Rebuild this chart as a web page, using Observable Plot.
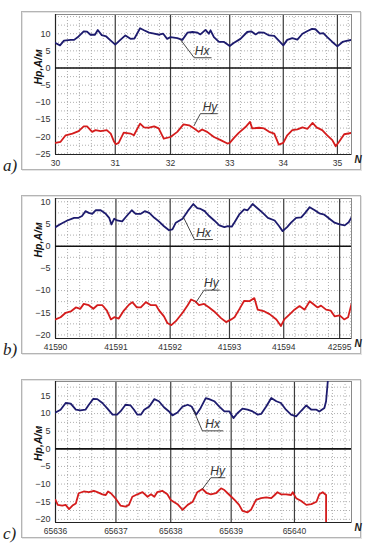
<!DOCTYPE html>
<html><head><meta charset="utf-8">
<script src="https://cdn.jsdelivr.net/npm/d3@7"></script>
<script src="https://cdn.jsdelivr.net/npm/@observablehq/plot@0.6"></script>
<style>
body{margin:0;background:#fff;font-family:"Liberation Sans",Arial,sans-serif;}
.panel{position:relative;width:369px;height:184px;overflow:hidden;}
.frame{position:absolute;left:21px;top:11px;width:338px;height:157px;border:1px solid #b4b4b4;box-shadow:inset 1px 1px 0 #e4e4e4, 1px 1px 0 #e4e4e4;}
.letter{position:absolute;left:3px;top:156px;font-family:"Liberation Serif","DejaVu Serif",serif;font-style:italic;font-size:17px;color:#222;}
.panel svg{position:absolute;left:0;top:0;}
</style></head><body><div id="root"></div><script>
// ---- Panel a) ----
const aTickPos = [0, 1.06, 2.04, 3.09, 4.04, 5.0];
const aTickLabels = ["30", "31", "32", "33", "34", "35"];
const aYTicks = [-25, -20, -15, -10, -5, 0, 5, 10];
const aHx = [[0,7.3],[0.08,6.6],[0.15,8.0],[0.27,8.2],[0.33,8.2],[0.41,9.2],[0.50,10.7],[0.56,10.6],[0.62,9.7],[0.70,9.7],[0.75,11.1],[0.82,9.6],[0.90,9.2],[0.98,8.0],[1.06,6.8],[1.15,8.2],[1.24,9.5],[1.33,8.5],[1.40,8.6],[1.50,11.6],[1.57,11.0],[1.66,10.3],[1.75,10.0],[1.84,9.7],[1.91,10.0],[1.98,8.5],[2.04,9.0],[2.16,8.7],[2.25,8.2],[2.34,10.3],[2.43,10.5],[2.52,10.3],[2.57,9.8],[2.66,11.1],[2.72,10.0],[2.75,11.0],[2.81,9.0],[2.90,7.6],[2.99,7.6],[3.09,6.4],[3.16,7.3],[3.28,8.5],[3.40,10.5],[3.47,10.7],[3.55,9.8],[3.61,10.4],[3.70,10.3],[3.79,9.5],[3.88,9.4],[3.96,8.0],[4.04,6.6],[4.11,8.2],[4.20,8.7],[4.29,8.3],[4.38,10.0],[4.47,10.8],[4.55,11.4],[4.61,11.3],[4.69,10.0],[4.75,10.2],[4.82,9.0],[4.91,7.6],[5.0,6.3],[5.09,7.6],[5.18,8.0],[5.25,8.2]];
const aHy = [[0,-21.8],[0.09,-21.5],[0.18,-19.6],[0.30,-19.1],[0.41,-18.4],[0.50,-17.0],[0.56,-17.0],[0.65,-18.6],[0.71,-18.1],[0.80,-18.4],[0.91,-18.1],[0.98,-19.1],[1.04,-21.5],[1.07,-22.2],[1.12,-21.8],[1.21,-18.8],[1.33,-19.1],[1.39,-19.6],[1.50,-16.2],[1.57,-17.3],[1.66,-17.4],[1.75,-17.0],[1.83,-17.6],[1.92,-20.6],[2.04,-20.1],[2.16,-18.6],[2.27,-16.4],[2.37,-16.7],[2.46,-17.6],[2.54,-18.6],[2.60,-17.9],[2.69,-18.6],[2.81,-20.1],[2.93,-21.0],[3.05,-22.0],[3.09,-21.8],[3.17,-20.3],[3.25,-18.9],[3.37,-17.2],[3.45,-15.7],[3.49,-17.6],[3.61,-17.4],[3.70,-17.6],[3.79,-18.6],[3.88,-19.1],[3.96,-22.3],[4.04,-21.8],[4.11,-19.6],[4.20,-18.1],[4.29,-17.9],[4.38,-17.3],[4.47,-17.7],[4.56,-16.0],[4.63,-17.3],[4.73,-18.1],[4.82,-19.6],[4.91,-21.0],[4.97,-22.8],[5.03,-21.5],[5.12,-19.3],[5.25,-18.9]];
const aHxLeader = [[2.22,8.2],[2.46,3.0],[2.76,3.0]];
const aHyLeader = [[2.46,-16.7],[2.57,-13.3],[2.87,-13.3]];
const aHxLabel = [2.60, 3.0];
const aHyLabel = [2.74, -13.3];

// ---- Panel b) ----
const bTickPos = [0, 1.07, 2.03, 3.08, 4.04, 5.03];
const bTickLabels = ["41590", "41591", "41592", "41593", "41594", "42595"];
const bYTicks = [-20, -15, -10, -5, 0, 5, 10];
const bHx = [[0,4.3],[0.09,5.0],[0.21,5.8],[0.33,6.4],[0.41,6.4],[0.47,6.8],[0.53,7.9],[0.59,7.5],[0.65,7.3],[0.71,8.1],[0.80,8.1],[0.89,7.3],[0.95,6.4],[0.99,4.9],[1.04,6.2],[1.09,5.8],[1.18,5.6],[1.26,6.8],[1.35,8.1],[1.42,7.3],[1.51,7.3],[1.58,7.9],[1.66,7.5],[1.75,6.4],[1.83,5.6],[1.92,4.5],[2.01,3.6],[2.07,3.8],[2.13,5.3],[2.25,6.2],[2.34,7.9],[2.44,9.5],[2.51,8.6],[2.57,8.4],[2.64,7.9],[2.72,6.8],[2.81,5.8],[2.90,4.7],[2.99,4.3],[3.05,4.5],[3.12,4.4],[3.17,5.4],[3.25,7.1],[3.34,8.3],[3.40,8.1],[3.49,9.5],[3.58,8.5],[3.67,7.5],[3.76,6.4],[3.88,5.8],[3.96,4.5],[4.02,3.4],[4.10,4.3],[4.17,5.3],[4.26,6.4],[4.35,6.5],[4.42,7.5],[4.50,8.8],[4.59,8.1],[4.67,7.4],[4.76,7.1],[4.85,6.2],[4.94,5.3],[5.03,4.9],[5.12,4.7],[5.19,5.4],[5.24,6.5]];
const bHy = [[0,-16.5],[0.09,-16.0],[0.18,-15.0],[0.27,-14.7],[0.36,-13.8],[0.44,-14.1],[0.50,-13.0],[0.59,-13.3],[0.67,-14.1],[0.74,-13.3],[0.83,-13.3],[0.91,-14.5],[0.98,-16.5],[1.04,-16.0],[1.12,-16.3],[1.21,-14.5],[1.30,-13.2],[1.36,-12.6],[1.44,-13.8],[1.51,-13.8],[1.60,-12.6],[1.69,-13.3],[1.78,-13.3],[1.83,-14.4],[1.92,-15.8],[1.98,-17.3],[2.05,-17.8],[2.13,-16.9],[2.25,-15.0],[2.34,-13.3],[2.40,-12.0],[2.47,-12.4],[2.54,-13.3],[2.63,-13.0],[2.72,-13.8],[2.81,-14.7],[2.93,-16.2],[3.02,-17.1],[3.11,-16.5],[3.17,-16.0],[3.25,-14.3],[3.34,-12.3],[3.43,-12.4],[3.52,-11.7],[3.58,-14.3],[3.70,-14.7],[3.79,-15.3],[3.91,-16.5],[3.99,-18.0],[4.05,-16.5],[4.14,-15.4],[4.23,-14.3],[4.32,-13.5],[4.41,-14.3],[4.50,-12.4],[4.59,-13.3],[4.64,-13.8],[4.70,-13.4],[4.79,-14.3],[4.87,-14.5],[4.94,-15.8],[5.03,-15.6],[5.11,-16.5],[5.18,-16.0],[5.24,-13.0]];
const bHxLeader = [[2.27,6.4],[2.46,1.5],[2.78,1.5]];
const bHyLeader = [[2.49,-12.6],[2.63,-9.9],[2.90,-9.9]];
const bHxLabel = [2.62, 1.5];
const bHyLabel = [2.76, -9.9];

// ---- Panel c) ----
const cTickPos = [0, 1.07, 2.04, 3.11, 4.23];
const cTickLabels = ["65636", "65637", "65638", "65639", "65640"];
const cYTicks = [-20, -15, -10, -5, 0, 5, 10, 15];
const cHx = [[0,10.3],[0.09,11.1],[0.18,13.0],[0.27,12.8],[0.36,11.1],[0.44,10.9],[0.53,11.1],[0.59,12.5],[0.67,14.2],[0.74,14.1],[0.83,13.0],[0.92,11.4],[1.01,9.7],[1.09,9.7],[1.15,10.6],[1.24,12.5],[1.33,12.3],[1.39,11.1],[1.45,9.7],[1.51,9.7],[1.57,11.1],[1.66,12.0],[1.75,14.1],[1.83,13.5],[1.92,11.8],[2.01,10.6],[2.07,9.5],[2.16,10.3],[2.25,12.0],[2.34,12.5],[2.41,12.0],[2.49,9.7],[2.57,11.6],[2.66,14.4],[2.72,14.1],[2.81,13.5],[2.90,12.0],[2.99,10.6],[3.08,10.6],[3.15,8.7],[3.22,10.1],[3.31,11.4],[3.40,11.1],[3.49,10.6],[3.58,9.7],[3.64,9.9],[3.73,12.0],[3.82,14.4],[3.91,13.5],[3.99,13.0],[4.08,11.1],[4.17,9.7],[4.26,9.2],[4.35,10.8],[4.44,12.3],[4.53,11.1],[4.62,11.1],[4.67,10.6],[4.76,11.6],[4.79,13.5],[4.82,19.1],[4.84,21.5]];
const cHy = [[0,-14.5],[0.04,-15.9],[0.12,-16.1],[0.18,-15.9],[0.24,-17.1],[0.30,-16.1],[0.36,-15.5],[0.41,-12.6],[0.50,-12.1],[0.59,-12.3],[0.68,-11.9],[0.74,-12.3],[0.83,-12.9],[0.89,-13.1],[0.93,-12.1],[0.98,-12.6],[1.07,-14.2],[1.15,-16.1],[1.24,-16.4],[1.30,-15.9],[1.36,-13.6],[1.45,-12.9],[1.54,-12.3],[1.63,-13.6],[1.69,-12.9],[1.75,-13.6],[1.80,-12.3],[1.89,-11.9],[1.98,-12.9],[2.04,-14.5],[2.16,-15.7],[2.25,-17.3],[2.34,-15.9],[2.43,-15.0],[2.51,-12.3],[2.60,-11.4],[2.68,-12.6],[2.75,-12.9],[2.84,-12.6],[2.93,-11.2],[2.99,-11.7],[3.08,-13.1],[3.17,-14.5],[3.25,-15.9],[3.31,-17.6],[3.40,-18.0],[3.46,-17.3],[3.55,-14.5],[3.64,-14.0],[3.73,-13.8],[3.82,-14.0],[3.88,-13.1],[3.93,-12.3],[3.99,-12.9],[4.08,-12.9],[4.17,-13.1],[4.20,-12.3],[4.26,-14.0],[4.35,-14.8],[4.44,-15.9],[4.53,-15.7],[4.62,-15.0],[4.67,-12.9],[4.73,-12.3],[4.79,-13.1],[4.79,-22.0]];
const cHxLeader = [[2.44,11.1],[2.60,5.1],[2.96,5.1]];
const cHyLeader = [[2.60,-11.4],[2.75,-8.2],[3.00,-8.2]];
const cHxLabel = [2.78, 5.1];
const cHyLabel = [2.87, -8.2];

const panels = [
  {letter:"a)", ticks:aTickPos, labels:aTickLabels, yTicks:aYTicks, xDomain:[0,5.25], yDomain:[-25.2,15.6], hx:aHx, hy:aHy, hxLead:aHxLeader, hyLead:aHyLeader, hxLab:aHxLabel, hyLab:aHyLabel, mt:14, ylabDy:0},
  {letter:"b)", ticks:bTickPos, labels:bTickLabels, yTicks:bYTicks, xDomain:[0,5.24], yDomain:[-20.8,10.75], hx:bHx, hy:bHy, hxLead:bHxLeader, hyLead:bHyLeader, hxLab:bHxLabel, hyLab:bHyLabel, mt:14, ylabDy:-11},
  {letter:"c)", ticks:cTickPos, labels:cTickLabels, yTicks:cYTicks, xDomain:[0,5.24], yDomain:[-20.9,19.1], hx:cHx, hy:cHy, hxLead:cHxLeader, hyLead:cHyLeader, hxLab:cHxLabel, hyLab:cHyLabel, mt:13, ylabDy:9}
];

const root = document.getElementById("root");
const pts = arr => arr.map(([x,y]) => ({x,y}));
const font = '"Liberation Sans", Arial, sans-serif';

for (const p of panels) {
  const div = document.createElement("div");
  div.className = "panel";
  const fr = document.createElement("div"); fr.className = "frame"; div.appendChild(fr);
  const minorX = [];
  for (let i = 0; i < p.ticks.length - 1; i++) {
    const st = (p.ticks[i+1] - p.ticks[i]) / 5;
    for (let k = 1; k < 5; k++) minorX.push(p.ticks[i] + k*st);
  }
  { const n = p.ticks.length; const st = (p.ticks[n-1]-p.ticks[n-2])/5;
    for (let v = p.ticks[n-1]+st; v < p.xDomain[1]; v += st) minorX.push(v); }
  const minorY = d3.range(Math.ceil(p.yDomain[0]/2.5)*2.5, p.yDomain[1], 2.5);
  const labMap = new Map(p.ticks.map((t,i)=>[t, p.labels[i]]));
  const svg = Plot.plot({
    width: 369, height: 184,
    marginLeft: 55, marginRight: 18, marginTop: p.mt, marginBottom: 30,
    style: {fontFamily: font, background: "transparent", overflow: "visible"},
    x: {domain: p.xDomain},
    y: {domain: p.yDomain},
    marks: [
      Plot.ruleX(minorX, {stroke:"#9a9a9a", strokeDasharray:"1,2", strokeWidth:0.8}),
      Plot.ruleY(minorY, {stroke:"#9a9a9a", strokeDasharray:"1,2", strokeWidth:0.8}),
      Plot.ruleX(p.ticks.slice(1), {stroke:"#3c3c3c", strokeWidth:1.2}),
      Plot.frame({stroke:"#8a8a8a"}),
      Plot.ruleX([p.xDomain[0]], {stroke:"#222", strokeWidth:1.2}),
      Plot.ruleY([p.yDomain[0]], {stroke:"#222", strokeWidth:1.2}),
      Plot.ruleY([0], {stroke:"#111", strokeWidth:1.6}),
      Plot.line(pts(p.hx), {x:"x", y:"y", stroke:"#1d1b6e", strokeWidth:1.8, clip:true}),
      Plot.line(pts(p.hy), {x:"x", y:"y", stroke:"#d41c1c", strokeWidth:1.8, clip:true}),
      Plot.line(pts(p.hxLead), {x:"x", y:"y", stroke:"#333", strokeWidth:0.9}),
      Plot.line(pts(p.hyLead), {x:"x", y:"y", stroke:"#333", strokeWidth:0.9}),
      Plot.text([{x:p.hxLab[0], y:p.hxLab[1], t:"Hx"}], {x:"x", y:"y", text:"t", lineAnchor:"bottom", dy:-3, fontSize:12, fontStyle:"italic", fill:"#333"}),
      Plot.text([{x:p.hyLab[0], y:p.hyLab[1], t:"Hy"}], {x:"x", y:"y", text:"t", lineAnchor:"bottom", dy:-3, fontSize:12, fontStyle:"italic", fill:"#333"}),
      Plot.axisX({ticks: p.ticks, tickFormat: d => labMap.get(d), tickSize: 0, tickPadding: 5, fontSize: 8.5, fill:"#333", label: null}),
      Plot.axisY({ticks: p.yTicks, tickSize: 0, tickPadding: 5, fontSize: 9, fill:"#333", label: null}),
      Plot.text(["N"], {frameAnchor:"bottom-right", textAnchor:"start", dx: 3, dy: 8, text: d => d, fontSize: 10, fontWeight:"bold", fontStyle:"italic", fill:"#222"}),
      Plot.text(["Hp,A/м"], {frameAnchor:"left", dx: -17, dy: p.ylabDy, rotate: -90, text: d => d, fontSize: 10.5, fontWeight:"bold", fontStyle:"italic", fill:"#111"})
    ]
  });
  div.appendChild(svg);
  const lt = document.createElement("div"); lt.className = "letter"; lt.textContent = p.letter; div.appendChild(lt);
  root.appendChild(div);
}
</script></body></html>
